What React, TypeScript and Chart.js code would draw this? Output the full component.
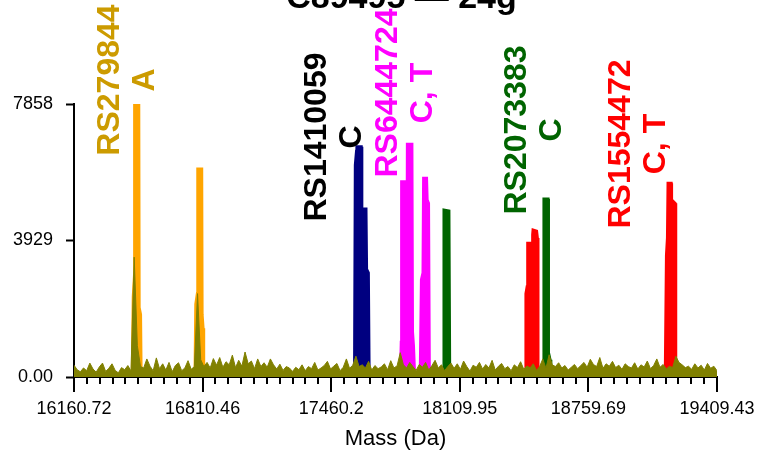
import { useEffect, useRef } from 'react';
import { Chart, registerables } from 'chart.js';

Chart.register(...registerables);

// ---------- data ----------
const chartTitle = 'C89495 — 24g';
const xAxisTitle = 'Mass (Da)';
const xTickLabels = ['16160.72', '16810.46', '17460.2', '18109.95', '18759.69', '19409.43'];
const yTickLabels = ['0.00', '3929', '7858'];
const minorPerMajor = 10;

// baseline trace (olive), sampled every noiseStep Da starting at noiseStart
const noiseStart = 16160.72;
const noiseStep = 16.0035;
const noise = [
  340, 210, 150, 260, 180, 400, 230, 140, 290, 400,
  160, 250, 380, 190, 120, 270, 210, 330, 170, 3450,
  900, 300, 260, 520, 310, 180, 550, 240, 380, 200,
  420, 150, 330, 410, 180, 260, 470, 220, 300, 2400,
  500, 300, 420, 260, 530, 340, 560, 280, 440, 350,
  630, 270, 480, 310, 720, 380, 460, 240, 520, 300,
  410, 280, 520, 350, 230, 370, 190, 300, 260, 160,
  280, 210, 350, 180, 300, 240, 420, 200, 260, 330,
  450, 230, 310, 390, 180, 280, 520, 250, 340, 600,
  300, 350, 260, 450, 200, 330, 240, 290, 380, 210,
  470, 260, 320, 700, 350, 260, 420, 300, 190, 360,
  280, 420, 200, 330, 480, 260, 350, 180, 300, 400,
  250, 380, 220, 460, 300, 170, 340, 280, 420, 230,
  360, 260, 480, 200, 310, 390, 240, 300, 180, 350,
  270, 440, 220, 320, 260, 380, 190, 300, 520, 250,
  640, 350, 300, 410, 260, 330, 200, 280, 360, 240,
  330, 420, 280, 510, 360, 300, 560, 250, 380, 310,
  450, 270, 340, 220, 380, 300, 260, 410, 230, 350,
  290, 460, 240, 330, 520, 280, 360, 230, 310, 270,
  600, 420, 350, 270, 310, 220, 380, 260, 340, 200,
  390, 250, 310, 180,
];

// peaks: masses (Da) and intensities
const orange1Mass = [16455, 16460, 16466, 16467, 16488, 16490, 16497, 16500];
const orange1Int = [0, 2300, 2900, 7858, 7858, 2000, 1800, 0];
const orange2Mass = [16772, 16776, 16784, 16786, 16806, 16808, 16813, 16816];
const orange2Int = [0, 2100, 2400, 5986, 5986, 1800, 1400, 0];
const navyMass = [17578, 17582, 17588, 17590, 17612, 17615, 17618, 17620, 17623, 17636, 17639, 17648, 17652];
const navyInt = [0, 6100, 6500, 6628, 6628, 900, 800, 4700, 4835, 4835, 3100, 3000, 0];
const magentaABMass = [17810, 17814, 17816, 17836, 17838, 17843, 17845, 17868, 17871, 17876, 17882];
const magentaABInt = [0, 1000, 5621, 5621, 2500, 2500, 6697, 6697, 1300, 900, 0];
const magentaCMass = [17910, 17916, 17924, 17927, 17942, 17945, 17952, 17956, 17961];
const magentaCInt = [0, 2800, 3000, 5718, 5718, 5100, 5000, 300, 0];
const green1Mass = [18026, 18030, 18055, 18059];
const green1Int = [0, 4806, 4780, 0];
const redABMass = [18440, 18444, 18450, 18453, 18476, 18478, 18480, 18498, 18502, 18505];
const redABInt = [0, 2400, 2600, 3848, 3848, 4100, 4231, 4200, 4000, 0];
const green2Mass = [18531, 18535, 18556, 18558, 18566, 18570];
const green2Int = [0, 5123, 5123, 700, 500, 0];
const redCMass = [19148, 19154, 19159, 19162, 19178, 19180, 19198, 19201];
const redCInt = [0, 3500, 4000, 5575, 5575, 5100, 5000, 0];

// annotations
const labelLine1 = ['RS279844', 'RS1410059', 'RS6444724', 'RS2073383', 'RS1554472'];
const labelLine2 = ['A', 'C', 'C, T', 'C', 'C, T'];
const labelColors = ['#CC9B00', '#000000', '#FF00FF', '#006400', '#FF0000'];
const labelMass = [16431, 17480, 17834, 18488, 19014];
const labelIntensity = [8548, 6907, 8174, 7109, 6706];

const FONT = '"Liberation Sans", Arial, sans-serif';

const zip = (m: number[], v: number[]) => m.map((x, i) => ({ x, y: v[i] }));

const overlay = {
  id: 'overlay',
  afterDraw(chart: any) {
    const { ctx, chartArea } = chart;
    const xs = chart.scales.x;
    const ys = chart.scales.y;
    ctx.save();
    // x ticks (major + minor)
    ctx.strokeStyle = '#000';
    ctx.lineWidth = 2;
    const majors = xTickLabels.map(Number);
    const step = (majors[1] - majors[0]) / minorPerMajor;
    const n = (majors.length - 1) * minorPerMajor;
    for (let k = 0; k <= n; k++) {
      const px = Math.round(xs.getPixelForValue(majors[0] + k * step));
      const len = k % minorPerMajor === 0 ? 15 : 7;
      ctx.beginPath();
      ctx.moveTo(px, chartArea.bottom);
      ctx.lineTo(px, chartArea.bottom + len);
      ctx.stroke();
    }
    // chart title (top cut off)
    ctx.fillStyle = '#000';
    ctx.font = 'bold 34px ' + FONT;
    ctx.textAlign = 'center';
    ctx.textBaseline = 'alphabetic';
    ctx.fillText(chartTitle, (chartArea.left + chartArea.right) / 2 + 6, 8);
    // peak labels, rotated
    ctx.font = 'bold 32px ' + FONT;
    ctx.textBaseline = 'middle';
    for (let i = 0; i < labelLine1.length; i++) {
      const px = xs.getPixelForValue(labelMass[i]);
      const py = ys.getPixelForValue(labelIntensity[i]);
      ctx.save();
      ctx.translate(px, py);
      ctx.rotate(-Math.PI / 2);
      ctx.fillStyle = labelColors[i];
      ctx.fillText(labelLine1[i], 0, -17.5);
      ctx.fillText(labelLine2[i], 0, 17.5);
      ctx.restore();
    }
    ctx.restore();
  },
};

export default function App() {
  const ref = useRef<HTMLCanvasElement | null>(null);
  useEffect(() => {
    if (!ref.current) return;
    const peak = (m: number[], v: number[], color: string) => ({
      data: zip(m, v),
      borderColor: color,
      backgroundColor: color,
      borderWidth: 3,
      pointRadius: 0,
      fill: 'origin',
      tension: 0,
    });
    const noiseData = noise.map((v, i) => ({ x: noiseStart + i * noiseStep, y: v }));
    const chart = new Chart(ref.current, {
      type: 'line',
      data: {
        datasets: [
          {
            data: noiseData,
            borderColor: '#808000',
            backgroundColor: '#808000',
            borderWidth: 1,
            pointRadius: 0,
            fill: 'origin',
            tension: 0,
          } as any,
          peak(orange1Mass, orange1Int, '#FFA500'),
          peak(orange2Mass, orange2Int, '#FFA500'),
          peak(navyMass, navyInt, '#000080'),
          peak(magentaABMass, magentaABInt, '#FF00FF'),
          peak(magentaCMass, magentaCInt, '#FF00FF'),
          peak(green1Mass, green1Int, '#006400'),
          peak(redABMass, redABInt, '#FF0000'),
          peak(green2Mass, green2Int, '#006400'),
          peak(redCMass, redCInt, '#FF0000'),
        ],
      },
      options: {
        responsive: false,
        animation: false,
        devicePixelRatio: 1,
        layout: { padding: { left: 0, right: 44, top: 104, bottom: 0 }, autoPadding: false },
        plugins: { legend: { display: false }, tooltip: { enabled: false }, title: { display: false } },
        scales: {
          x: {
            type: 'linear',
            min: Number(xTickLabels[0]),
            max: Number(xTickLabels[xTickLabels.length - 1]),
            afterBuildTicks: (s: any) => {
              s.ticks = xTickLabels.map((t) => ({ value: Number(t) }));
            },
            afterFit: (s: any) => {
              s.height = 75;
            },
            ticks: {
              autoSkip: false,
              maxRotation: 0,
              padding: 6,
              color: '#000',
              font: { family: FONT, size: 18 },
              callback: (_v: any, i: number) => xTickLabels[i],
            },
            grid: { drawOnChartArea: false, drawTicks: true, tickLength: 15, tickColor: 'rgba(0,0,0,0)' },
            border: { color: '#000', width: 2 },
            title: {
              display: true,
              text: xAxisTitle,
              color: '#000',
              font: { family: FONT, size: 22 },
              padding: { top: 0, bottom: 0 },
            },
          },
          y: {
            type: 'linear',
            min: Number(yTickLabels[0]),
            max: Number(yTickLabels[yTickLabels.length - 1]),
            afterBuildTicks: (s: any) => {
              s.ticks = yTickLabels.map((t) => ({ value: Number(t) }));
            },
            afterFit: (s: any) => {
              s.width = 74;
            },
            ticks: {
              padding: 13,
              color: '#000',
              font: { family: FONT, size: 18 },
              callback: (_v: any, i: number) => yTickLabels[i],
            },
            grid: { drawOnChartArea: false, drawTicks: true, tickLength: 8, tickWidth: 2, tickColor: '#000' },
            border: { color: '#000', width: 2 },
          },
        },
      } as any,
      plugins: [overlay],
    });
    return () => chart.destroy();
  }, []);
  return (
    <div style={{ position: 'absolute', left: 0, top: 0, width: 761, height: 452, background: '#fff' }}>
      <canvas ref={ref} width={761} height={452} style={{ width: 761, height: 452, display: 'block' }} />
    </div>
  );
}
